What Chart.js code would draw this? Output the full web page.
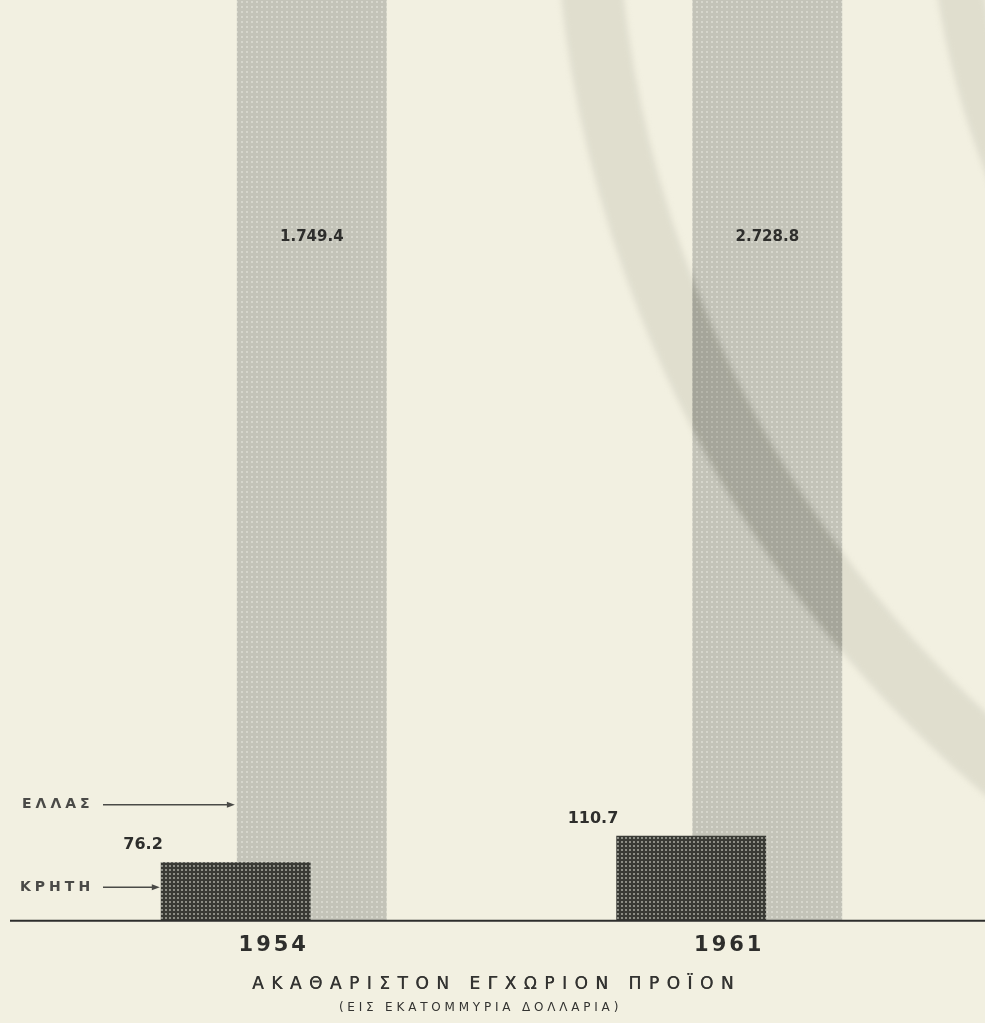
<!DOCTYPE html>
<html lang="el">
<head>
<meta charset="utf-8">
<title>Ακαθάριστον εγχώριον προϊόν</title>
<script src="https://cdn.jsdelivr.net/npm/chart.js@4.4.1/dist/chart.umd.min.js"></script>
<style>
  html, body { margin: 0; padding: 0; background: #f2f0e1; }
  #wrap { width: 985px; height: 1023px; position: relative; }
</style>
</head>
<body>
<div id="wrap"><canvas id="chart"></canvas></div>
<script>
// data (millions of dollars)
const years = ["1954", "1961"];
const creteValues = [76.2, 110.7];
const greeceValues = [1749.4, 2728.8];
const seriesNames = ["ΚΡΗΤΗ", "ΕΛΛΑΣ"];
const titleText = "ΑΚΑΘΑΡΙΣΤΟΝ ΕΓΧΩΡΙΟΝ ΠΡΟΪΟΝ";
const subtitleText = "(ΕΙΣ ΕΚΑΤΟΜΜΥΡΙΑ ΔΟΛΛΑΡΙΑ)";
const yMax = 1200; // not to scale in the original: Greece bars run off the top

const PAPER = "#f2f0e1";
const INK = "#2e2e2c";
const FONT = "'DejaVu Sans', sans-serif";

const canvas = document.getElementById("chart");
const ctx = canvas.getContext("2d");

// halftone-ish fills like the print
function makePattern(size, base, dot, dotSize) {
  const c = document.createElement("canvas");
  c.width = c.height = size;
  const g = c.getContext("2d");
  g.fillStyle = base;
  g.fillRect(0, 0, size, size);
  g.fillStyle = dot;
  g.fillRect(1, 1, dotSize, dotSize);
  return ctx.createPattern(c, "repeat");
}
const creteFill = makePattern(4, "#393a35", "#8c8d85", 2);
const greeceFill = makePattern(5, "#c3c3b8", "#d6d6cc", 2);

// Greek print style: dots for thousands and decimals
function fmt(v) {
  const [i, d] = v.toFixed(1).split(".");
  return i.replace(/\B(?=(\d{3})+(?!\d))/g, ".") + "." + d;
}

function arrow(c, x1, x2, y) {
  c.beginPath();
  c.moveTo(x1, y);
  c.lineTo(x2 - 6, y);
  c.stroke();
  c.beginPath();
  c.moveTo(x2, y);
  c.lineTo(x2 - 8, y - 3);
  c.lineTo(x2 - 8, y + 3);
  c.closePath();
  c.fill();
}

// the two shadow bands across the scanned page
function bands(c, W, H, tone) {
  const cx = W * 1.8, cy = -H * 0.132;
  c.strokeStyle = tone;
  c.lineWidth = 62;
  c.beginPath();
  c.arc(cx, cy, W * 1.206, 0, Math.PI * 2);
  c.stroke();
  c.lineWidth = 46;
  c.beginPath();
  c.arc(cx, cy, W * 0.835, 0, Math.PI * 2);
  c.stroke();
}

const paperPlugin = {
  id: "paper",
  beforeDraw(chart) {
    const c = chart.ctx;
    c.save();
    c.fillStyle = PAPER;
    c.fillRect(0, 0, chart.width, chart.height);
    c.restore();
    c.letterSpacing = "3px"; // for the year ticks
  },
  beforeDatasetsDraw(chart) {
    chart.ctx.letterSpacing = "0px";
  }
};

const annotatePlugin = {
  id: "annotate",
  afterDatasetsDraw(chart) {
    const c = chart.ctx;
    const area = chart.chartArea;
    const W = chart.width, H = chart.height;
    const base = chart.scales.y.getPixelForValue(0);
    const crete = chart.getDatasetMeta(0).data;
    const greece = chart.getDatasetMeta(1).data;

    c.save();
    c.globalCompositeOperation = "multiply";
    c.filter = "blur(3px)";
    bands(c, W, H, "rgb(236,236,234)");
    c.restore();
    // the band shows darker where it crosses the tall bars
    c.save();
    c.beginPath();
    greece.forEach((el) => {
      const p = el.getProps(["x", "width"], true);
      c.rect(p.x - p.width / 2, area.top, p.width, base - area.top);
    });
    c.clip();
    c.globalCompositeOperation = "multiply";
    c.filter = "blur(3px)";
    bands(c, W, H, "rgb(234,234,232)");
    c.restore();

    c.save();
    // baseline across the page
    c.strokeStyle = INK;
    c.lineWidth = 2;
    c.beginPath();
    c.moveTo(10, base);
    c.lineTo(W, base);
    c.stroke();

    // value labels
    c.fillStyle = INK;
    c.textBaseline = "middle";
    c.font = "bold 16px " + FONT;
    c.textAlign = "right";
    crete.forEach((el, i) => {
      const p = el.getProps(["x", "y", "width"], true);
      c.fillText(fmt(creteValues[i]), p.x - p.width / 2 + 2, p.y - 17);
    });
    c.font = "bold 15px " + FONT;
    c.textAlign = "center";
    greece.forEach((el, i) => {
      const p = el.getProps(["x"], true);
      c.fillText(fmt(greeceValues[i]), p.x, area.top + (area.bottom - area.top) * 0.257);
    });

    // series pointers
    c.font = "bold 14px " + FONT;
    c.letterSpacing = "4px";
    c.textAlign = "left";
    c.fillStyle = "#4a4a47";
    c.strokeStyle = "#4a4a47";
    c.lineWidth = 1.5;
    const c0 = crete[0].getProps(["x", "y", "width"], true);
    const g0 = greece[0].getProps(["x", "width"], true);
    const yCrete = c0.y + 25;
    const yGreece = base - 116;
    c.fillText(seriesNames[0], 20, yCrete);
    c.fillText(seriesNames[1], 22, yGreece);
    arrow(c, 103, c0.x - c0.width / 2 - 1, yCrete);
    arrow(c, 103, g0.x - g0.width / 2 - 2, yGreece);

    // captions under the axis
    c.fillStyle = "#333331";
    c.textAlign = "center";
    c.font = "17px " + FONT;
    c.letterSpacing = "7.5px";
    c.fillText(titleText, W / 2 + 4, area.bottom + 64);
    c.fillText(titleText, W / 2 + 4.4, area.bottom + 64); // heavier stroke like the print
    c.font = "12px " + FONT;
    c.letterSpacing = "3.8px";
    c.fillText(subtitleText, W / 2 - 12, area.bottom + 87);
    c.restore();
  }
};

new Chart(canvas, {
  type: "bar",
  data: {
    labels: years,
    datasets: [
      {
        label: seriesNames[0],
        data: creteValues,
        backgroundColor: creteFill,
        categoryPercentage: 0.334,
        barPercentage: 1.97
      },
      {
        label: seriesNames[1],
        data: greeceValues,
        backgroundColor: greeceFill,
        categoryPercentage: 0.334,
        barPercentage: 1.97
      }
    ]
  },
  options: {
    responsive: true,
    maintainAspectRatio: false,
    animation: false,
    layout: { padding: { left: 46, right: 28, top: 0, bottom: 53 } },
    plugins: {
      legend: { display: false },
      tooltip: { enabled: false }
    },
    scales: {
      x: {
        grid: { display: false, drawTicks: false },
        border: { display: false },
        ticks: {
          color: INK,
          padding: 12,
          font: { family: FONT, size: 21, weight: "bold" }
        }
      },
      y: { display: false, min: 0, max: yMax }
    }
  },
  plugins: [paperPlugin, annotatePlugin]
});
</script>
</body>
</html>
